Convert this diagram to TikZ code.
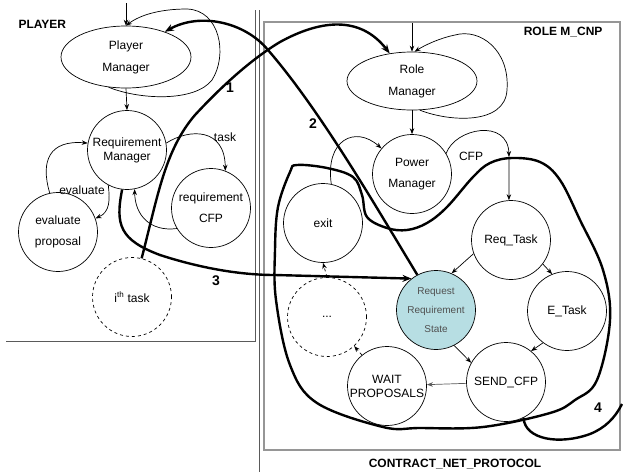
\documentclass[tikz,border=0pt]{standalone}
\usepackage{fontspec}
\setmainfont{Liberation Sans}
\usetikzlibrary{arrows.meta,positioning,calc,shapes.geometric}
\definecolor{reqfill}{RGB}{183,222,227}
\definecolor{framegray}{RGB}{150,150,150}
\definecolor{framedark}{RGB}{90,90,90}
\definecolor{textgray}{RGB}{80,80,80}

\begin{document}
\begin{tikzpicture}[
    x=1pt,y=-1pt,
    state/.style={draw,circle,line width=0.7pt,minimum size=79pt,inner sep=0pt,align=center,font=\fontsize{12}{21}\selectfont},
    tight/.style={font=\fontsize{12}{14}\selectfont},
    mgr/.style={draw,ellipse,line width=0.7pt,minimum width=130pt,inner sep=0pt,align=center,font=\fontsize{12}{22}\selectfont},
    flow/.style={->,line width=0.7pt},
    chain/.style={line width=2.4pt,-{Stealth[length=9pt,width=7pt]}},
    num/.style={font=\fontsize{14}{14}\selectfont\bfseries},
    title/.style={font=\fontsize{12}{12}\selectfont\bfseries},
    lbl/.style={font=\fontsize{12}{12}\selectfont},
    >={Stealth[length=6pt,width=4.5pt]}
]
\useasboundingbox (0,0) rectangle (623,472);

\draw[framedark,line width=0.8pt] (255,10) -- (255,341) -- (6,341);
\draw[framedark,line width=0.8pt] (259,10) -- (259,472);
\draw[framegray,line width=1.2pt] (264,22) rectangle (620,450);

\node[title,anchor=west] (playerlbl) at (15,24) {PLAYER};
\node[title,anchor=east] (rolelbl) at (606,32) {ROLE M\_CNP};
\node[title] (cnplbl) at (455,464) {CONTRACT\_NET\_PROTOCOL};

\node[mgr,minimum height=62pt] (pm) at (126,57) {Player\\Manager};
\node[state,tight] (rm) at (127,150) {Requirement\\Manager};
\node[state] (rcfp) at (211,208) {requirement\\CFP};
\node[state] (evp) at (58,232) {evaluate\\proposal};
\node[state,dashed] (ith) at (132,297) {i\textsuperscript{th} task};

\node[mgr,minimum height=58pt] (rolem) at (412,81) {Role\\Manager};
\node[state] (powm) at (412,174) {Power\\Manager};
\node[state] (exit) at (323,223) {exit};
\node[state] (reqt) at (511,240) {Req\_Task};
\node[state,fill=reqfill,text=textgray,font=\fontsize{10}{19}\selectfont] (rrs) at (436,310) {Request\\Requirement\\State};
\node[state] (etask) at (567,311) {E\_Task};
\node[state] (send) at (506,382) {SEND\_CFP};
\node[state,tight] (wait) at (387,386) {WAIT\\PROPOSALS};
\node[state,dashed] (dots) at (327,317) {...};

\coordinate (pmin) at (126,3);
\coordinate (rolein) at (412,23);
\coordinate (cfpmid) at (509,157);
\coordinate (c4end) at (622,404);

\draw[flow] (pmin) -- (pm.north);
\draw[flow] (pm.240) .. controls (140,100) and (195,102) .. (212,80) .. controls (228,55) and (220,10) .. (187,9) .. controls (160,9) and (140,15) .. (pm.north);
\draw[flow] (pm.south) -- (rm.north);
\draw[flow] (rm.10) .. controls (190,128) and (225,128) .. (rcfp.69);
\draw[flow] (rcfp.211) .. controls (150,232) and (135,215) .. (rm.281);
\draw[flow] (rm.242) .. controls (110,200) and (110,212) .. (evp.20);
\draw[flow] (evp.102) .. controls (40,160) and (50,140) .. (rm.170);
\node[lbl] (tasklbl) at (225,137) {task};
\node[lbl] (evallbl) at (82,190) {evaluate};

\draw[flow] (rolein) -- (rolem.north);
\draw[flow] (rolem.285) .. controls (450,122) and (505,125) .. (507,90) .. controls (510,50) and (480,28) .. (455,35) .. controls (440,38) and (425,45) .. (rolem.85);
\draw[flow] (rolem.south) -- (powm.north);
\draw[flow] (exit.78) .. controls (325,140) and (355,125) .. (powm.140);
\draw[flow] (powm.31) .. controls (455,128) and (508,118) .. (cfpmid);
\draw[flow] (cfpmid) -- (reqt.93);
\node[lbl] (cfplbl) at (471,156) {CFP};
\draw[flow] (reqt.200) -- (rrs.67);
\draw[flow] (reqt.323) -- (etask.112);
\draw[flow] (etask.233) -- (send.51);
\draw[flow] (rrs.297) -- (send.151);
\draw[flow,framedark] (send) -- (wait);
\draw[flow,dashed] (wait.129) -- (dots.313);
\draw[flow,dashed] (dots.north) -- (exit.south);

\draw[chain] (ith.76) .. controls (158,195) and (165,150) .. (195,115) .. controls (220,88) and (250,60) .. (280,42) .. controls (320,20) and (360,15) .. (rolem.129);
\draw[chain] (rrs.118) .. controls (375,205) and (320,110) .. (268,50) .. controls (245,22) and (200,12) .. (pm.33);
\draw[chain] (rm.263) .. controls (115,225) and (120,240) .. (160,255) .. controls (200,268) and (240,275) .. (275,275) -- (rrs.128);
\draw[line width=2.4pt] (send.296) .. controls (525,440) and (560,445) .. (590,434) .. controls (605,428) and (615,418) .. (c4end);
\draw[line width=2.4pt] plot[smooth cycle,tension=0.6] coordinates {(297,165) (327,168) (353,177) (362,195) (367,217) (387,228) (407,230) (427,223) (447,207) (473,177) (490,163) (512,158) (540,162) (560,180) (580,220) (603,270) (610,320) (597,380) (575,400) (550,413) (483,427) (420,428) (383,427) (317,403) (290,365) (276,300) (275,250) (278,207) (290,172)};

\node[num] (n1) at (230,88) {1};
\node[num] (n2) at (313,124) {2};
\node[num] (n3) at (216,281) {3};
\node[num] (n4) at (598,408) {4};
\end{tikzpicture}
\end{document}
